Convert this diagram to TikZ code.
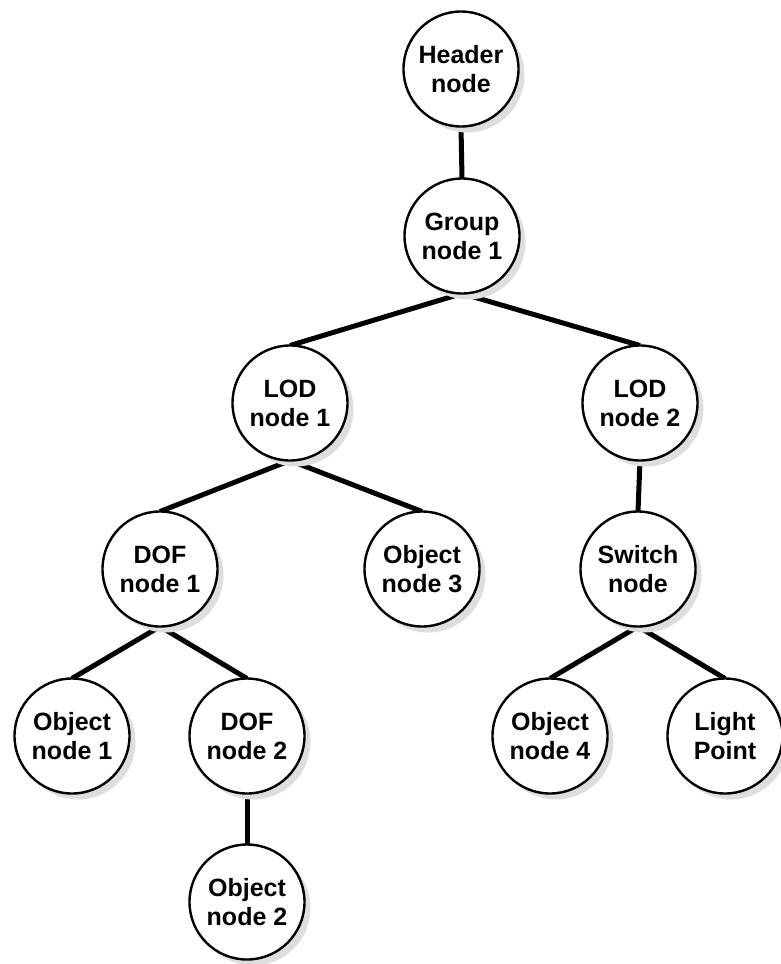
\documentclass[tikz,border=0pt]{standalone}
\usepackage{fontspec}
\setmainfont{Liberation Sans}
\usetikzlibrary{shadows,backgrounds}
\begin{document}
\begin{tikzpicture}[x=1pt,y=-1pt,
  treenode/.style={circle, draw=black, line width=2.4pt, fill=white, minimum size=115pt, inner sep=0pt, outer sep=0pt,
    align=center, font=\fontsize{25}{29}\selectfont\bfseries,
    drop shadow={shadow xshift=6pt, shadow yshift=-6pt, fill=black!13, opacity=1}},
  link/.style={line width=5pt}]
\useasboundingbox (0,0) rectangle (780,964);
\node[treenode] (H)  at (461,69)  {Header\\node};
\node[treenode] (G)  at (462,236) {Group\\node 1};
\node[treenode] (L1) at (290,403) {LOD\\node 1};
\node[treenode] (L2) at (640,403) {LOD\\node 2};
\node[treenode] (D1) at (160,569) {DOF\\node 1};
\node[treenode] (O3) at (422,569) {Object\\node 3};
\node[treenode] (S)  at (638,569) {Switch\\node};
\node[treenode] (O1) at (72,736)  {Object\\node 1};
\node[treenode] (D2) at (247,736) {DOF\\node 2};
\node[treenode] (O4) at (550,736) {Object\\node 4};
\node[treenode] (LP) at (725,736) {Light\\Point};
\node[treenode] (O2) at (247,902) {Object\\node 2};
\begin{scope}[on background layer]
\draw[link] (H.south) -- (G.north);
\draw[link] (G.south) -- (L1.north);
\draw[link] (G.south) -- (L2.north);
\draw[link] (L1.south) -- (D1.north);
\draw[link] (L1.south) -- (O3.north);
\draw[link] (L2.south) -- (S.north);
\draw[link] (D1.south) -- (O1.north);
\draw[link] (D1.south) -- (D2.north);
\draw[link] (D2.south) -- (O2.north);
\draw[link] (S.south) -- (O4.north);
\draw[link] (S.south) -- (LP.north);
\end{scope}
\end{tikzpicture}
\end{document}
